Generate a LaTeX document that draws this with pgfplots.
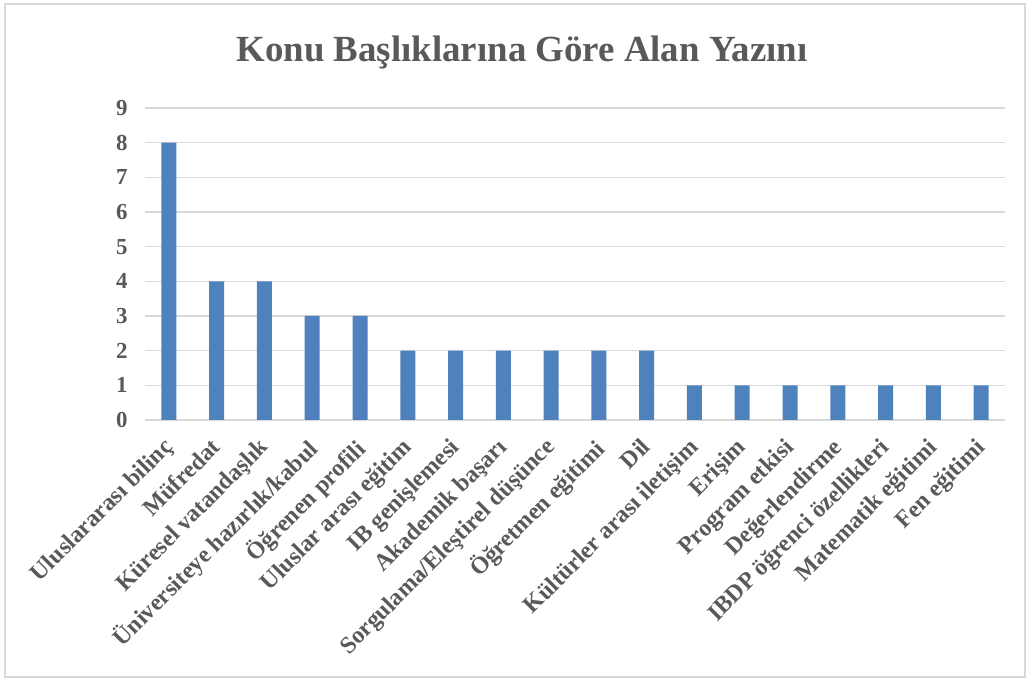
\documentclass[border=0pt]{standalone}
\usepackage{pgfplots}
\pgfplotsset{compat=1.18}
\usepackage{fontspec}
\setmainfont{Liberation Serif}
\definecolor{barblue}{HTML}{4F81BD}
\definecolor{txt}{HTML}{595959}
\definecolor{gridc}{HTML}{D9D9D9}
\begin{document}
\begin{tikzpicture}[x=1bp,y=1bp]
\path[use as bounding box] (0,0) rectangle (1030,681);
\draw[gridc, line width=1.2bp] (5,4) rectangle (1025,677);
\node[txt, font=\fontsize{37}{41}\selectfont\bfseries] at (522,628) {Konu Başlıklarına Göre Alan Yazını};
\begin{axis}[
  at={(145bp,261bp)}, anchor=south west,
  scale only axis, width=860bp, height=312bp,
  xmin=-0.5, xmax=17.5, ymin=0, ymax=9,
  ytick={0,1,...,9},
  xtick={0,...,17},
  xticklabels={Uluslararası bilinç, Müfredat, Küresel vatandaşlık, Üniversiteye hazırlık/kabul, Öğrenen profili, Uluslar arası eğitim, IB genişlemesi, Akademik başarı, Sorgulama/Eleştirel düşünce, Öğretmen eğitimi, Dil, Kültürler arası iletişim, Erişim, Program etkisi, Değerlendirme, IBDP öğrenci özellikleri, Matematik eğitimi, Fen eğitimi},
  axis line style={draw=none},
  major tick length=0pt,
  ymajorgrids, grid style={gridc, line width=1.2bp},
  /pgf/number format/assume math mode=true,
  yticklabel style={txt, font=\fontsize{23}{26}\selectfont\bfseries, xshift=-14bp},
  xticklabel style={txt, font=\fontsize{24}{27}\selectfont\bfseries, xshift=-7bp, yshift=-15bp, rotate=45, anchor=north east, inner sep=1bp},
  ybar, bar width=15bp,
]
\addplot[fill=barblue, draw=none] coordinates {
(0,8) (1,4) (2,4) (3,3) (4,3) (5,2) (6,2) (7,2) (8,2) (9,2) (10,2) (11,1) (12,1) (13,1) (14,1) (15,1) (16,1) (17,1)};
\end{axis}
\end{tikzpicture}
\end{document}
